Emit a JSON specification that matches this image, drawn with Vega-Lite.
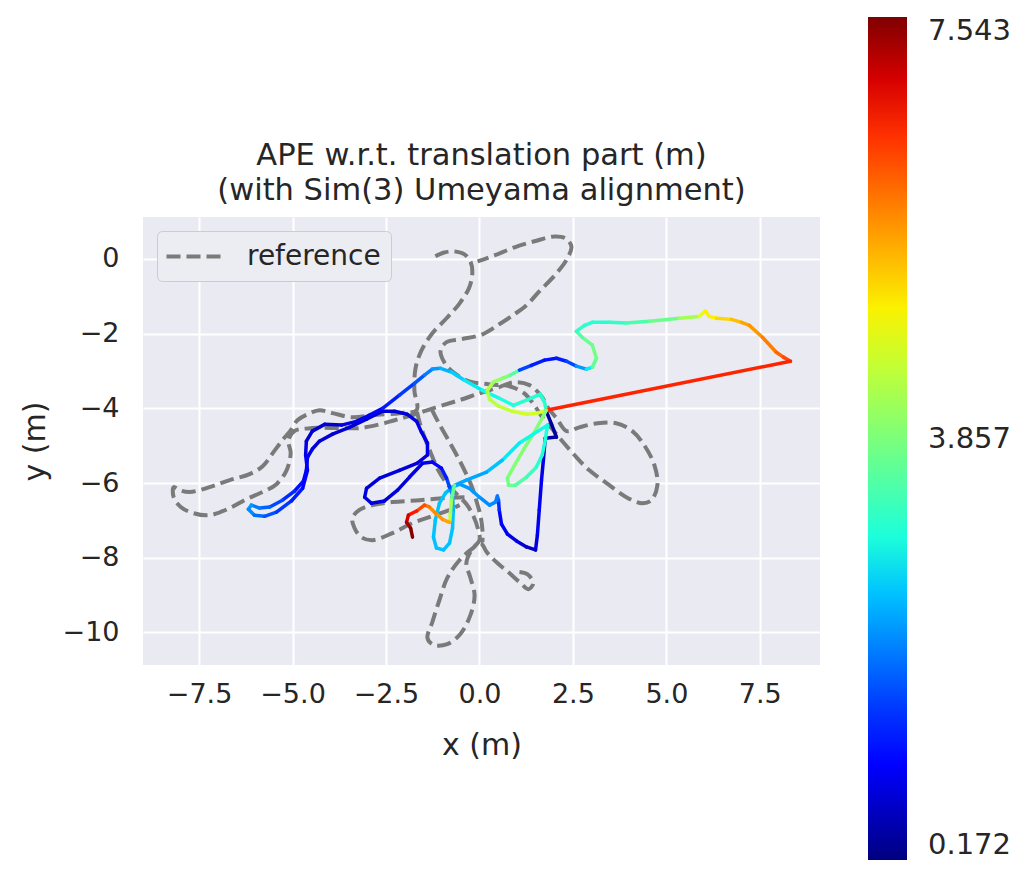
{
  "$schema": "https://vega.github.io/schema/vega-lite/v6.json",
  "autosize": {"type": "none"},
  "padding": {"left": 143, "top": 217, "right": 199, "bottom": 221},
  "width": 677,
  "height": 448,
  "background": "white",
  "title": {
    "text": ["APE w.r.t. translation part (m)", "(with Sim(3) Umeyama alignment)"],
    "font": "DejaVu Sans",
    "fontSize": 30.5,
    "fontWeight": "normal",
    "color": "#262626",
    "anchor": "middle",
    "lineHeight": 35,
    "offset": 14,
    "dy": 203
  },
  "config": {
    "view": {"fill": "#EAEAF2", "stroke": null},
    "font": "DejaVu Sans",
    "axis": {
      "labelFont": "DejaVu Sans",
      "labelFontSize": 27,
      "labelColor": "#262626",
      "titleFont": "DejaVu Sans",
      "titleFontSize": 30,
      "titleFontWeight": "normal",
      "titleColor": "#262626",
      "domain": false,
      "ticks": false,
      "grid": true,
      "gridColor": "#ffffff",
      "gridWidth": 2,
      "gridOpacity": 1
    },
    "legend": {"labelFont": "DejaVu Sans", "labelColor": "#262626"}
  },
  "datasets": {
    "ref": [
      {"part":1,"i":1,"traj":"reference","x":-1.18,"y":0.07},
      {"part":1,"i":2,"traj":"reference","x":-0.94,"y":0.17},
      {"part":1,"i":3,"traj":"reference","x":-0.67,"y":0.20},
      {"part":1,"i":4,"traj":"reference","x":-0.40,"y":0.12},
      {"part":1,"i":5,"traj":"reference","x":-0.24,"y":-0.07},
      {"part":1,"i":6,"traj":"reference","x":-0.19,"y":-0.36},
      {"part":1,"i":7,"traj":"reference","x":-0.27,"y":-0.76},
      {"part":1,"i":8,"traj":"reference","x":-0.53,"y":-1.19},
      {"part":1,"i":9,"traj":"reference","x":-0.88,"y":-1.59},
      {"part":1,"i":10,"traj":"reference","x":-1.26,"y":-1.99},
      {"part":1,"i":11,"traj":"reference","x":-1.55,"y":-2.45},
      {"part":1,"i":12,"traj":"reference","x":-1.71,"y":-2.93},
      {"part":1,"i":13,"traj":"reference","x":-1.74,"y":-3.52},
      {"part":1,"i":14,"traj":"reference","x":-1.68,"y":-4.05},
      {"part":1,"i":15,"traj":"reference","x":-2.14,"y":-4.13},
      {"part":1,"i":16,"traj":"reference","x":-2.86,"y":-4.18},
      {"part":1,"i":17,"traj":"reference","x":-3.40,"y":-4.24},
      {"part":1,"i":18,"traj":"reference","x":-3.93,"y":-4.13},
      {"part":1,"i":19,"traj":"reference","x":-4.28,"y":-4.05},
      {"part":1,"i":20,"traj":"reference","x":-4.60,"y":-4.16},
      {"part":1,"i":21,"traj":"reference","x":-4.87,"y":-4.32},
      {"part":1,"i":22,"traj":"reference","x":-5.05,"y":-4.59},
      {"part":1,"i":23,"traj":"reference","x":-5.27,"y":-4.85},
      {"part":1,"i":24,"traj":"reference","x":-5.53,"y":-5.20},
      {"part":1,"i":25,"traj":"reference","x":-5.80,"y":-5.55},
      {"part":1,"i":26,"traj":"reference","x":-6.15,"y":-5.76},
      {"part":1,"i":27,"traj":"reference","x":-6.68,"y":-5.92},
      {"part":1,"i":28,"traj":"reference","x":-7.22,"y":-6.11},
      {"part":1,"i":29,"traj":"reference","x":-7.75,"y":-6.24},
      {"part":1,"i":30,"traj":"reference","x":-8.02,"y":-6.19},
      {"part":1,"i":31,"traj":"reference","x":-8.18,"y":-6.11},
      {"part":1,"i":32,"traj":"reference","x":-8.18,"y":-6.38},
      {"part":1,"i":33,"traj":"reference","x":-7.99,"y":-6.64},
      {"part":1,"i":34,"traj":"reference","x":-7.67,"y":-6.80},
      {"part":1,"i":35,"traj":"reference","x":-7.22,"y":-6.86},
      {"part":1,"i":36,"traj":"reference","x":-6.68,"y":-6.67},
      {"part":1,"i":37,"traj":"reference","x":-6.23,"y":-6.43},
      {"part":1,"i":38,"traj":"reference","x":-5.80,"y":-6.24},
      {"part":1,"i":39,"traj":"reference","x":-5.43,"y":-6.03},
      {"part":1,"i":40,"traj":"reference","x":-5.16,"y":-5.66},
      {"part":1,"i":41,"traj":"reference","x":-5.05,"y":-5.20},
      {"part":1,"i":42,"traj":"reference","x":-5.11,"y":-4.85},
      {"part":1,"i":43,"traj":"reference","x":-4.95,"y":-4.61},
      {"part":1,"i":44,"traj":"reference","x":-4.47,"y":-4.53},
      {"part":1,"i":45,"traj":"reference","x":-3.74,"y":-4.53},
      {"part":1,"i":46,"traj":"reference","x":-3.21,"y":-4.53},
      {"part":1,"i":47,"traj":"reference","x":-2.67,"y":-4.43},
      {"part":1,"i":48,"traj":"reference","x":-2.27,"y":-4.32},
      {"part":1,"i":49,"traj":"reference","x":-1.79,"y":-4.18},
      {"part":1,"i":50,"traj":"reference","x":-1.15,"y":-3.97},
      {"part":1,"i":51,"traj":"reference","x":-0.53,"y":-3.78},
      {"part":1,"i":52,"traj":"reference","x":0.00,"y":-3.60},
      {"part":1,"i":53,"traj":"reference","x":0.45,"y":-3.46},
      {"part":1,"i":54,"traj":"reference","x":0.94,"y":-3.30},
      {"part":1,"i":55,"traj":"reference","x":1.34,"y":-3.38},
      {"part":1,"i":56,"traj":"reference","x":1.66,"y":-3.68},
      {"part":1,"i":57,"traj":"reference","x":1.82,"y":-3.97},
      {"part":1,"i":58,"traj":"reference","x":2.06,"y":-4.26},
      {"part":1,"i":59,"traj":"reference","x":2.33,"y":-4.61},
      {"part":1,"i":60,"traj":"reference","x":2.67,"y":-4.51},
      {"part":1,"i":61,"traj":"reference","x":3.16,"y":-4.40},
      {"part":1,"i":62,"traj":"reference","x":3.66,"y":-4.40},
      {"part":1,"i":63,"traj":"reference","x":4.09,"y":-4.61},
      {"part":1,"i":64,"traj":"reference","x":4.41,"y":-4.99},
      {"part":1,"i":65,"traj":"reference","x":4.68,"y":-5.52},
      {"part":1,"i":66,"traj":"reference","x":4.76,"y":-6.06},
      {"part":1,"i":67,"traj":"reference","x":4.60,"y":-6.46},
      {"part":1,"i":68,"traj":"reference","x":4.36,"y":-6.54},
      {"part":1,"i":69,"traj":"reference","x":3.93,"y":-6.38},
      {"part":1,"i":70,"traj":"reference","x":3.40,"y":-6.00},
      {"part":1,"i":71,"traj":"reference","x":2.94,"y":-5.66},
      {"part":1,"i":72,"traj":"reference","x":2.54,"y":-5.25},
      {"part":1,"i":73,"traj":"reference","x":2.19,"y":-4.85},
      {"part":1,"i":74,"traj":"reference","x":1.93,"y":-4.53},
      {"part":1,"i":75,"traj":"reference","x":1.68,"y":-4.24},
      {"part":1,"i":76,"traj":"reference","x":1.47,"y":-3.92},
      {"part":1,"i":77,"traj":"reference","x":1.20,"y":-3.60},
      {"part":1,"i":78,"traj":"reference","x":0.80,"y":-3.41},
      {"part":1,"i":79,"traj":"reference","x":0.27,"y":-3.36},
      {"part":1,"i":80,"traj":"reference","x":-0.27,"y":-3.28},
      {"part":1,"i":81,"traj":"reference","x":-0.67,"y":-3.06},
      {"part":1,"i":82,"traj":"reference","x":-0.94,"y":-2.77},
      {"part":1,"i":83,"traj":"reference","x":-1.04,"y":-2.45},
      {"part":1,"i":84,"traj":"reference","x":-0.88,"y":-2.23},
      {"part":1,"i":85,"traj":"reference","x":-0.48,"y":-2.15},
      {"part":1,"i":86,"traj":"reference","x":0.08,"y":-2.02},
      {"part":1,"i":87,"traj":"reference","x":0.53,"y":-1.75},
      {"part":1,"i":88,"traj":"reference","x":0.94,"y":-1.48},
      {"part":1,"i":89,"traj":"reference","x":1.26,"y":-1.24},
      {"part":1,"i":90,"traj":"reference","x":1.60,"y":-0.87},
      {"part":1,"i":91,"traj":"reference","x":2.06,"y":-0.39},
      {"part":1,"i":92,"traj":"reference","x":2.35,"y":0.01},
      {"part":1,"i":93,"traj":"reference","x":2.46,"y":0.33},
      {"part":1,"i":94,"traj":"reference","x":2.30,"y":0.55},
      {"part":1,"i":95,"traj":"reference","x":2.01,"y":0.60},
      {"part":1,"i":96,"traj":"reference","x":1.47,"y":0.47},
      {"part":1,"i":97,"traj":"reference","x":0.94,"y":0.31},
      {"part":1,"i":98,"traj":"reference","x":0.40,"y":0.09},
      {"part":1,"i":99,"traj":"reference","x":-0.05,"y":-0.07},
      {"part":2,"i":1,"traj":"reference","x":1.07,"y":-8.38},
      {"part":2,"i":2,"traj":"reference","x":1.28,"y":-8.44},
      {"part":2,"i":3,"traj":"reference","x":1.44,"y":-8.68},
      {"part":2,"i":4,"traj":"reference","x":1.31,"y":-8.84},
      {"part":2,"i":5,"traj":"reference","x":1.07,"y":-8.65},
      {"part":2,"i":6,"traj":"reference","x":0.80,"y":-8.41},
      {"part":2,"i":7,"traj":"reference","x":0.48,"y":-8.14},
      {"part":2,"i":8,"traj":"reference","x":0.21,"y":-7.87},
      {"part":2,"i":9,"traj":"reference","x":0.03,"y":-7.61},
      {"part":2,"i":10,"traj":"reference","x":-0.21,"y":-7.77},
      {"part":2,"i":11,"traj":"reference","x":-0.53,"y":-8.06},
      {"part":2,"i":12,"traj":"reference","x":-0.86,"y":-8.54},
      {"part":2,"i":13,"traj":"reference","x":-1.07,"y":-9.13},
      {"part":2,"i":14,"traj":"reference","x":-1.26,"y":-9.72},
      {"part":2,"i":15,"traj":"reference","x":-1.39,"y":-10.15},
      {"part":2,"i":16,"traj":"reference","x":-1.23,"y":-10.33},
      {"part":2,"i":17,"traj":"reference","x":-0.86,"y":-10.31},
      {"part":2,"i":18,"traj":"reference","x":-0.51,"y":-10.04},
      {"part":2,"i":19,"traj":"reference","x":-0.24,"y":-9.53},
      {"part":2,"i":20,"traj":"reference","x":-0.13,"y":-9.00},
      {"part":2,"i":21,"traj":"reference","x":-0.24,"y":-8.54},
      {"part":2,"i":22,"traj":"reference","x":-0.35,"y":-8.14},
      {"part":2,"i":23,"traj":"reference","x":-0.21,"y":-7.79},
      {"part":2,"i":24,"traj":"reference","x":0.00,"y":-7.53},
      {"part":2,"i":25,"traj":"reference","x":-0.03,"y":-7.26},
      {"part":2,"i":26,"traj":"reference","x":-0.16,"y":-6.89},
      {"part":2,"i":27,"traj":"reference","x":-0.35,"y":-6.56},
      {"part":2,"i":28,"traj":"reference","x":-0.61,"y":-6.30},
      {"part":2,"i":29,"traj":"reference","x":-0.88,"y":-6.00},
      {"part":2,"i":30,"traj":"reference","x":-1.10,"y":-5.66},
      {"part":2,"i":31,"traj":"reference","x":-1.28,"y":-5.25},
      {"part":2,"i":32,"traj":"reference","x":-1.44,"y":-4.85},
      {"part":2,"i":33,"traj":"reference","x":-1.58,"y":-4.45},
      {"part":2,"i":34,"traj":"reference","x":-1.68,"y":-4.05},
      {"part":3,"i":1,"traj":"reference","x":-0.40,"y":-6.38},
      {"part":3,"i":2,"traj":"reference","x":-0.88,"y":-6.40},
      {"part":3,"i":3,"traj":"reference","x":-1.60,"y":-6.46},
      {"part":3,"i":4,"traj":"reference","x":-2.33,"y":-6.51},
      {"part":3,"i":5,"traj":"reference","x":-2.86,"y":-6.59},
      {"part":3,"i":6,"traj":"reference","x":-3.21,"y":-6.72},
      {"part":3,"i":7,"traj":"reference","x":-3.40,"y":-6.94},
      {"part":3,"i":8,"traj":"reference","x":-3.34,"y":-7.21},
      {"part":3,"i":9,"traj":"reference","x":-3.16,"y":-7.45},
      {"part":3,"i":10,"traj":"reference","x":-2.86,"y":-7.53},
      {"part":3,"i":11,"traj":"reference","x":-2.33,"y":-7.34},
      {"part":3,"i":12,"traj":"reference","x":-1.79,"y":-7.07},
      {"part":3,"i":13,"traj":"reference","x":-1.34,"y":-6.91},
      {"part":3,"i":14,"traj":"reference","x":-0.88,"y":-6.75},
      {"part":3,"i":15,"traj":"reference","x":-0.53,"y":-6.59},
      {"part":4,"i":1,"traj":"reference","x":-1.28,"y":-4.02},
      {"part":4,"i":2,"traj":"reference","x":-1.07,"y":-4.43},
      {"part":4,"i":3,"traj":"reference","x":-0.83,"y":-4.85},
      {"part":4,"i":4,"traj":"reference","x":-0.61,"y":-5.25},
      {"part":4,"i":5,"traj":"reference","x":-0.40,"y":-5.66},
      {"part":4,"i":6,"traj":"reference","x":-0.21,"y":-6.08},
      {"part":4,"i":7,"traj":"reference","x":-0.08,"y":-6.48},
      {"part":4,"i":8,"traj":"reference","x":0.03,"y":-6.89},
      {"part":4,"i":9,"traj":"reference","x":0.08,"y":-7.26},
      {"part":4,"i":10,"traj":"reference","x":0.08,"y":-7.58}
    ],
    "est": [
      {"i":1,"x":1.79,"y":-4.08,"v":0.35},
      {"i":2,"x":1.93,"y":-4.43,"v":0.35},
      {"i":3,"x":2.06,"y":-4.77,"v":0.4},
      {"i":4,"x":1.76,"y":-4.80,"v":0.6},
      {"i":5,"x":1.71,"y":-5.39,"v":0.8},
      {"i":6,"x":1.66,"y":-5.92,"v":0.9},
      {"i":7,"x":1.60,"y":-6.72,"v":0.9},
      {"i":8,"x":1.55,"y":-7.39,"v":0.8},
      {"i":9,"x":1.50,"y":-7.79,"v":0.6},
      {"i":10,"x":1.26,"y":-7.71,"v":0.7},
      {"i":11,"x":0.99,"y":-7.55,"v":0.8},
      {"i":12,"x":0.75,"y":-7.37,"v":0.9},
      {"i":13,"x":0.59,"y":-7.10,"v":1.1},
      {"i":14,"x":0.53,"y":-6.72,"v":1.4},
      {"i":15,"x":0.51,"y":-6.46,"v":1.8},
      {"i":16,"x":0.48,"y":-6.35,"v":2.0},
      {"i":17,"x":0.43,"y":-6.51,"v":2.1},
      {"i":18,"x":0.27,"y":-6.59,"v":2.1},
      {"i":19,"x":0.00,"y":-6.38,"v":2.2},
      {"i":20,"x":-0.27,"y":-6.14,"v":2.2},
      {"i":21,"x":-0.53,"y":-6.03,"v":2.3},
      {"i":22,"x":-0.72,"y":-6.11,"v":2.4},
      {"i":23,"x":-0.91,"y":-6.27,"v":2.5},
      {"i":24,"x":-1.07,"y":-6.54,"v":2.5},
      {"i":25,"x":-1.18,"y":-6.99,"v":2.5},
      {"i":26,"x":-1.23,"y":-7.45,"v":2.5},
      {"i":27,"x":-1.15,"y":-7.74,"v":2.5},
      {"i":28,"x":-0.96,"y":-7.79,"v":2.5},
      {"i":29,"x":-0.80,"y":-7.61,"v":2.5},
      {"i":30,"x":-0.72,"y":-7.21,"v":2.5},
      {"i":31,"x":-0.70,"y":-6.72,"v":2.4},
      {"i":32,"x":-0.72,"y":-6.32,"v":2.1},
      {"i":33,"x":-0.80,"y":-6.11,"v":1.6},
      {"i":34,"x":-0.88,"y":-5.87,"v":1.3},
      {"i":35,"x":-1.02,"y":-5.60,"v":1.1},
      {"i":36,"x":-1.26,"y":-5.44,"v":0.9},
      {"i":37,"x":-1.52,"y":-5.47,"v":0.8},
      {"i":38,"x":-1.87,"y":-5.84,"v":0.75},
      {"i":39,"x":-2.19,"y":-6.19,"v":0.75},
      {"i":40,"x":-2.54,"y":-6.48,"v":0.75},
      {"i":41,"x":-2.89,"y":-6.54,"v":0.75},
      {"i":42,"x":-3.07,"y":-6.38,"v":0.75},
      {"i":43,"x":-3.02,"y":-6.14,"v":0.75},
      {"i":44,"x":-2.67,"y":-5.87,"v":0.75},
      {"i":45,"x":-2.14,"y":-5.66,"v":0.75},
      {"i":46,"x":-1.66,"y":-5.47,"v":0.75},
      {"i":47,"x":-1.39,"y":-5.25,"v":0.8},
      {"i":48,"x":-1.39,"y":-4.93,"v":0.8},
      {"i":49,"x":-1.55,"y":-4.64,"v":0.8},
      {"i":50,"x":-1.68,"y":-4.35,"v":0.8},
      {"i":51,"x":-1.93,"y":-4.16,"v":0.75},
      {"i":52,"x":-2.27,"y":-4.08,"v":0.7},
      {"i":53,"x":-2.59,"y":-4.08,"v":0.7},
      {"i":54,"x":-3.02,"y":-4.29,"v":0.7},
      {"i":55,"x":-3.48,"y":-4.51,"v":0.7},
      {"i":56,"x":-3.93,"y":-4.69,"v":0.7},
      {"i":57,"x":-4.28,"y":-4.88,"v":0.7},
      {"i":58,"x":-4.47,"y":-5.09,"v":0.8},
      {"i":59,"x":-4.60,"y":-5.31,"v":0.9},
      {"i":60,"x":-4.63,"y":-5.66,"v":1.1},
      {"i":61,"x":-4.71,"y":-5.95,"v":1.2},
      {"i":62,"x":-4.95,"y":-6.22,"v":1.4},
      {"i":63,"x":-5.27,"y":-6.46,"v":1.6},
      {"i":64,"x":-5.61,"y":-6.64,"v":1.8},
      {"i":65,"x":-5.88,"y":-6.67,"v":2.0},
      {"i":66,"x":-6.10,"y":-6.59,"v":2.2},
      {"i":67,"x":-6.18,"y":-6.70,"v":2.1},
      {"i":68,"x":-6.02,"y":-6.86,"v":1.9},
      {"i":69,"x":-5.75,"y":-6.89,"v":1.7},
      {"i":70,"x":-5.43,"y":-6.78,"v":1.5},
      {"i":71,"x":-5.03,"y":-6.48,"v":1.3},
      {"i":72,"x":-4.73,"y":-6.14,"v":1.1},
      {"i":73,"x":-4.60,"y":-5.66,"v":0.9},
      {"i":74,"x":-4.65,"y":-5.25,"v":0.8},
      {"i":75,"x":-4.63,"y":-4.88,"v":0.7},
      {"i":76,"x":-4.47,"y":-4.61,"v":0.7},
      {"i":77,"x":-4.14,"y":-4.43,"v":0.7},
      {"i":78,"x":-3.69,"y":-4.45,"v":0.8},
      {"i":79,"x":-3.29,"y":-4.35,"v":0.9},
      {"i":80,"x":-2.94,"y":-4.18,"v":1.1},
      {"i":81,"x":-2.59,"y":-4.00,"v":1.3},
      {"i":82,"x":-2.14,"y":-3.65,"v":1.5},
      {"i":83,"x":-1.74,"y":-3.33,"v":1.7},
      {"i":84,"x":-1.47,"y":-3.11,"v":2.0},
      {"i":85,"x":-1.26,"y":-2.95,"v":2.2},
      {"i":86,"x":-1.04,"y":-2.93,"v":2.4},
      {"i":87,"x":-0.75,"y":-3.03,"v":2.6},
      {"i":88,"x":-0.40,"y":-3.25,"v":2.8},
      {"i":89,"x":0.08,"y":-3.52,"v":2.9},
      {"i":90,"x":0.53,"y":-3.73,"v":3.0},
      {"i":91,"x":0.91,"y":-3.92,"v":3.1},
      {"i":92,"x":1.26,"y":-3.78,"v":3.1},
      {"i":93,"x":1.63,"y":-3.62,"v":3.1},
      {"i":94,"x":1.74,"y":-3.84,"v":3.1},
      {"i":95,"x":1.79,"y":-4.05,"v":4.6},
      {"i":96,"x":1.55,"y":-4.13,"v":4.6},
      {"i":97,"x":1.28,"y":-4.16,"v":4.6},
      {"i":98,"x":0.88,"y":-4.08,"v":4.5},
      {"i":99,"x":0.51,"y":-3.94,"v":4.4},
      {"i":100,"x":0.27,"y":-3.76,"v":4.4},
      {"i":101,"x":0.21,"y":-3.52,"v":4.3},
      {"i":102,"x":0.37,"y":-3.30,"v":4.1},
      {"i":103,"x":0.61,"y":-3.20,"v":3.9},
      {"i":104,"x":0.83,"y":-3.11,"v":3.5},
      {"i":105,"x":1.07,"y":-2.98,"v":1.6},
      {"i":106,"x":1.39,"y":-2.85,"v":1.3},
      {"i":107,"x":1.74,"y":-2.71,"v":1.2},
      {"i":108,"x":2.06,"y":-2.66,"v":1.3},
      {"i":109,"x":2.33,"y":-2.74,"v":1.6},
      {"i":110,"x":2.59,"y":-2.87,"v":2.2},
      {"i":111,"x":2.86,"y":-2.95,"v":2.8},
      {"i":112,"x":3.02,"y":-2.90,"v":3.6},
      {"i":113,"x":3.13,"y":-2.66,"v":3.8},
      {"i":114,"x":3.02,"y":-2.31,"v":3.7},
      {"i":115,"x":2.75,"y":-2.10,"v":3.5},
      {"i":116,"x":2.59,"y":-1.94,"v":3.2},
      {"i":117,"x":2.81,"y":-1.78,"v":3.1},
      {"i":118,"x":3.02,"y":-1.70,"v":3.1},
      {"i":119,"x":3.48,"y":-1.70,"v":3.2},
      {"i":120,"x":3.93,"y":-1.72,"v":3.4},
      {"i":121,"x":4.55,"y":-1.67,"v":3.7},
      {"i":122,"x":5.35,"y":-1.59,"v":4.2},
      {"i":123,"x":5.88,"y":-1.54,"v":4.8},
      {"i":124,"x":6.04,"y":-1.40,"v":5.0},
      {"i":125,"x":6.15,"y":-1.54,"v":5.0},
      {"i":126,"x":6.34,"y":-1.59,"v":5.2},
      {"i":127,"x":6.74,"y":-1.62,"v":5.4},
      {"i":128,"x":7.01,"y":-1.70,"v":5.6},
      {"i":129,"x":7.22,"y":-1.78,"v":5.7},
      {"i":130,"x":7.57,"y":-2.10,"v":5.9},
      {"i":131,"x":7.94,"y":-2.50,"v":6.1},
      {"i":132,"x":8.13,"y":-2.63,"v":6.3},
      {"i":133,"x":8.32,"y":-2.74,"v":6.6},
      {"i":134,"x":1.79,"y":-4.05,"v":3.9},
      {"i":135,"x":1.68,"y":-4.26,"v":3.9},
      {"i":136,"x":1.47,"y":-4.64,"v":3.9},
      {"i":137,"x":1.20,"y":-5.07,"v":3.9},
      {"i":138,"x":0.94,"y":-5.52,"v":3.9},
      {"i":139,"x":0.75,"y":-5.87,"v":3.8},
      {"i":140,"x":0.78,"y":-6.06,"v":3.7},
      {"i":141,"x":0.96,"y":-6.06,"v":3.5},
      {"i":142,"x":1.26,"y":-5.84,"v":3.3},
      {"i":143,"x":1.52,"y":-5.58,"v":3.1},
      {"i":144,"x":1.68,"y":-5.25,"v":3.0},
      {"i":145,"x":1.76,"y":-4.85,"v":3.0},
      {"i":146,"x":1.82,"y":-4.45,"v":2.9},
      {"i":147,"x":1.07,"y":-4.93,"v":2.8},
      {"i":148,"x":0.61,"y":-5.39,"v":2.5},
      {"i":149,"x":0.19,"y":-5.71,"v":2.3},
      {"i":150,"x":-0.35,"y":-5.92,"v":2.3},
      {"i":151,"x":-0.67,"y":-6.06,"v":3.6},
      {"i":152,"x":-0.75,"y":-6.46,"v":4.2},
      {"i":153,"x":-0.78,"y":-6.86,"v":4.5},
      {"i":154,"x":-0.80,"y":-7.05,"v":5.6},
      {"i":155,"x":-0.99,"y":-6.97,"v":5.7},
      {"i":156,"x":-1.18,"y":-6.80,"v":5.8},
      {"i":157,"x":-1.34,"y":-6.64,"v":6.0},
      {"i":158,"x":-1.47,"y":-6.59,"v":6.3},
      {"i":159,"x":-1.68,"y":-6.75,"v":6.7},
      {"i":160,"x":-1.90,"y":-6.86,"v":7.0},
      {"i":161,"x":-1.95,"y":-7.05,"v":7.3},
      {"i":162,"x":-1.84,"y":-7.21,"v":7.5},
      {"i":163,"x":-1.79,"y":-7.45,"v":7.54}
    ]
  },
  "encoding": {
    "x": {
      "type": "quantitative",
      "scale": {"domain": [-9.0, 9.11], "nice": false, "zero": false},
      "axis": {
        "values": [-7.5, -5, -2.5, 0, 2.5, 5, 7.5],
        "format": ".1f",
        "labelPadding": 16,
        "title": "x (m)",
        "titlePadding": 23
      }
    },
    "y": {
      "type": "quantitative",
      "scale": {"domain": [-10.87, 1.12], "nice": false, "zero": false},
      "axis": {
        "values": [0, -2, -4, -6, -8, -10],
        "format": "d",
        "labelPadding": 24,
        "title": "y (m)",
        "titlePadding": 12
      }
    }
  },
  "layer": [
    {
      "data": {"name": "ref"},
      "mark": {"type": "line", "color": "#7a7a7a", "strokeWidth": 4, "interpolate": "catmull-rom", "clip": true},
      "encoding": {
        "x": {"field": "x", "type": "quantitative"},
        "y": {"field": "y", "type": "quantitative"},
        "order": {"field": "i"},
        "detail": {"field": "part"},
        "strokeDash": {
          "field": "traj",
          "type": "nominal",
          "scale": {"domain": ["reference"], "range": [[14, 6]]},
          "legend": {
            "title": null,
            "orient": "top-left",
            "offset": 14,
            "padding": 10,
            "fillColor": "#ECECF3",
            "strokeColor": "#CCCCCC",
            "cornerRadius": 5,
            "symbolType": "M-2,0H2",
            "symbolSize": 729,
            "symbolOffset": 11,
            "symbolStrokeWidth": 4,
            "symbolStrokeColor": "#7a7a7a",
            "symbolFillColor": "transparent",
            "labelFontSize": 28,
            "labelOffset": 38,
            "labelColor": "#262626"
          }
        }
      }
    },
    {
      "data": {"name": "est"},
      "transform": [
        {"window": [{"op": "lead", "field": "x", "as": "x2"}, {"op": "lead", "field": "y", "as": "y2"}], "sort": [{"field": "i"}]},
        {"filter": "datum.x2 != null"}
      ],
      "mark": {"type": "rule", "strokeWidth": 3.5, "strokeCap": "round", "clip": true},
      "encoding": {
        "x": {"field": "x", "type": "quantitative"},
        "y": {"field": "y", "type": "quantitative"},
        "x2": {"field": "x2"},
        "y2": {"field": "y2"},
        "color": {
          "field": "v",
          "type": "quantitative",
          "scale": {
            "domain": [0.172, 0.983, 1.093, 2.678, 2.752, 2.936, 4.889, 4.963, 5.037, 6.732, 6.880, 7.543],
            "range": ["#000080", "#0000FF", "#0000FF", "#00DBFF", "#00E6F7", "#15FFE2", "#EFFF08", "#F7F500", "#FFEC00", "#FF1300", "#E80000", "#800000"],
            "interpolate": "rgb"
          },
          "legend": {
            "orient": "none",
            "legendX": 725,
            "legendY": -200,
            "direction": "vertical",
            "title": null,
            "gradientLength": 843,
            "gradientThickness": 39,
            "gradientStrokeWidth": 0,
            "values": [0.172, 3.857, 7.543],
            "labelFontSize": 29,
            "labelOffset": 21,
            "labelBaseline": "middle",
            "labelOverlap": false,
            "padding": 0,
            "format": ".3f"
          }
        }
      }
    }
  ]
}
